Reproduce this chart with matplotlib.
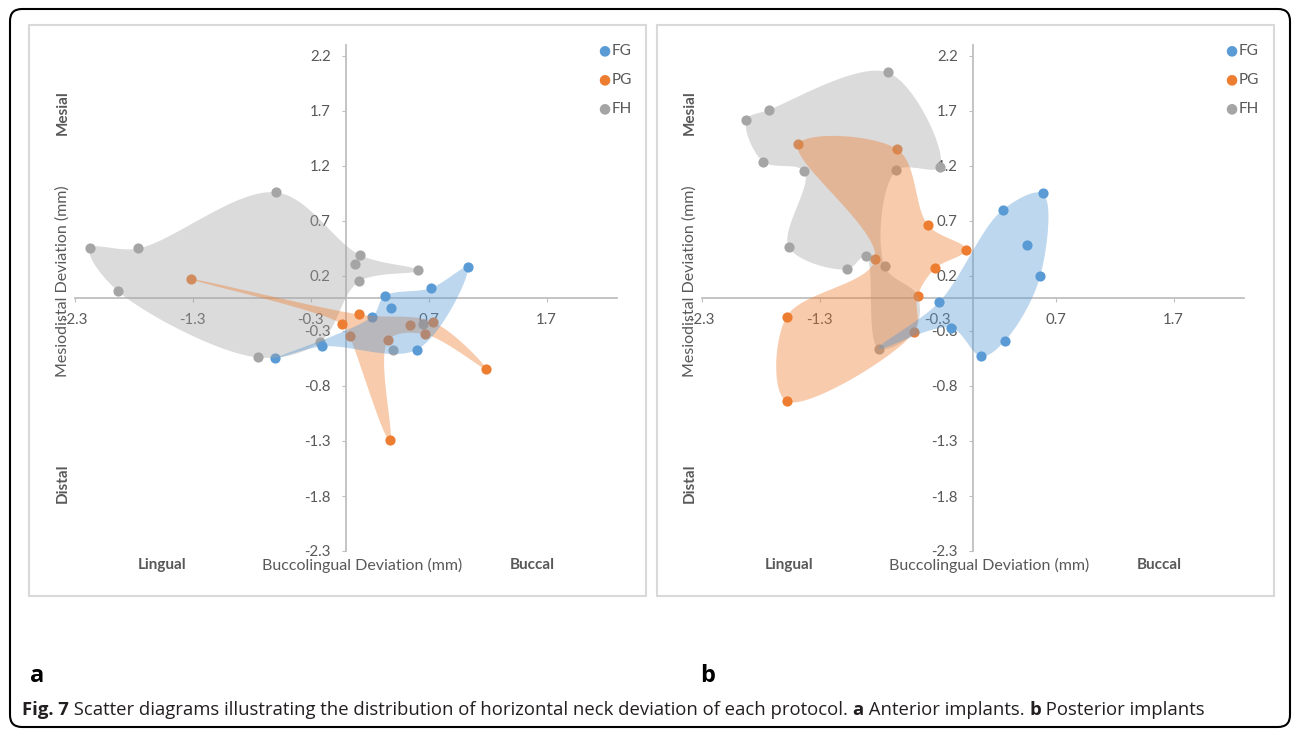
import numpy as np
import matplotlib
matplotlib.use("Agg")
import matplotlib.pyplot as plt
from matplotlib.patches import FancyBboxPatch, Rectangle, Polygon

# ---------------- data ----------------
# Panel a (anterior implants)
fg_a_x = [-0.60, -0.20, 0.22, 0.33, 0.38, 0.72, 1.03, 0.60]
fg_a_y = [-0.55, -0.44, -0.17, 0.02, -0.09, 0.09, 0.28, -0.47]
pg_a_x = [-1.31, -0.03, 0.03, 0.11, 0.36, 0.37, 0.54, 0.67, 0.74, 1.19]
pg_a_y = [0.17, -0.24, -0.35, -0.15, -0.38, -1.29, -0.25, -0.33, -0.22, -0.65]
fh_a_x = [-2.17, -1.76, -1.93, -0.59, -0.75, -0.22, 0.12, 0.08, 0.11, 0.61, 0.40, 0.65]
fh_a_y = [0.45, 0.45, 0.06, 0.96, -0.54, -0.40, 0.39, 0.31, 0.15, 0.25, -0.47, -0.24]

# Panel b (posterior implants)
fg_b_x = [-0.29, -0.19, 0.07, 0.27, 0.57, 0.46, 0.25, 0.59]
fg_b_y = [-0.04, -0.27, -0.53, -0.39, 0.20, 0.48, 0.80, 0.95]
pg_b_x = [-1.48, -0.64, -0.38, -0.06, -0.32, -0.83, -0.47, -1.58, -1.58, -0.50]
pg_b_y = [1.40, 1.35, 0.66, 0.44, 0.27, 0.35, 0.02, -0.17, -0.94, -0.31]
fh_b_x = [-0.72, -1.73, -1.92, -1.78, -1.43, -0.65, -0.28, -1.56, -1.07, -0.91, -0.75, -0.80]
fh_b_y = [2.05, 1.71, 1.62, 1.24, 1.15, 1.16, 1.19, 0.46, 0.26, 0.38, 0.29, -0.46]

# outline order of the hand-drawn regions (series, point index)
outline_fh_a = [("FH", i) for i in [0, 1, 3, 6, 9, 8, 5, 4, 2]]
outline_pg_a = [("PG", i) for i in [0, 3, 8, 9, 7, 4, 5, 2, 1]]
outline_fg_a = [("FG", i) for i in [0, 2, 3, 5, 6, 7, 1]]
outline_fh_b = ([("FH", 0), ("FH", 6), ("FH", 5), ("FH", 10), ("PG", 6), ("PG", 9)]
                + [("FH", i) for i in [11, 9, 8, 7, 4, 3, 2, 1]])
outline_pg_b = [("PG", i) for i in [0, 1, 2, 3, 4, 6, 9, 8, 7, 5]]
outline_fg_b = [("FG", i) for i in [0, 6, 7, 4, 3, 2, 1]] + [("FH", 11)]

series_names = ["FG", "PG", "FH"]
tick_vals_x = [-2.3, -1.3, -0.3, 0.7, 1.7]
tick_vals_y = [2.2, 1.7, 1.2, 0.7, 0.2, -0.3, -0.8, -1.3, -1.8, -2.3]

colors = {"FG": "#5B9BD5", "PG": "#ED7D31", "FH": "#A5A5A5"}
TXT = "#595959"
CHART_FONT = "Lato"
CAP_FONT = "Open Sans"

W, H = 1293, 730
fig = plt.figure(figsize=(W / 100, H / 100), dpi=100)


def fx(px):
    return px / W


def fy(py):
    return 1 - py / H


def catmull_closed(pts, n=24, alpha=0.5):
    P = np.asarray(pts, float)
    m = len(P)
    out = []
    for i in range(m):
        p0, p1, p2, p3 = P[(i - 1) % m], P[i], P[(i + 1) % m], P[(i + 2) % m]
        t0 = 0.0
        t1 = t0 + max(np.linalg.norm(p1 - p0), 1e-6) ** alpha
        t2 = t1 + max(np.linalg.norm(p2 - p1), 1e-6) ** alpha
        t3 = t2 + max(np.linalg.norm(p3 - p2), 1e-6) ** alpha
        for t in np.linspace(t1, t2, n, endpoint=False):
            a1 = (t1 - t) / (t1 - t0) * p0 + (t - t0) / (t1 - t0) * p1
            a2 = (t2 - t) / (t2 - t1) * p1 + (t - t1) / (t2 - t1) * p2
            a3 = (t3 - t) / (t3 - t2) * p2 + (t - t2) / (t3 - t2) * p3
            b1 = (t2 - t) / (t2 - t0) * a1 + (t - t0) / (t2 - t0) * a2
            b2 = (t3 - t) / (t3 - t1) * a2 + (t - t1) / (t3 - t1) * a3
            c = (t2 - t) / (t2 - t1) * b1 + (t - t1) / (t2 - t1) * b2
            out.append(c)
    return np.array(out)


def draw_panel(x0, data, outlines):
    left = x0 - 2.3 * 118
    ax = fig.add_axes([fx(left), fy(551), 4.6 * 118 / W, 506 / H])
    ax.set_xlim(-2.3, 2.3)
    ax.set_ylim(-2.3, 2.3)
    ax.patch.set_alpha(0)
    for s in ["top", "right"]:
        ax.spines[s].set_visible(False)
    for s in ["left", "bottom"]:
        ax.spines[s].set_position(("data", 0))
        ax.spines[s].set_color("#BFBFBF")
        ax.spines[s].set_linewidth(1.3)
    ax.set_xticks(tick_vals_x)
    ax.set_xticklabels([f"{v:.1f}" for v in tick_vals_x])
    ax.set_yticks(tick_vals_y)
    ax.set_yticklabels([f"{v:.1f}" for v in tick_vals_y])
    ax.tick_params(axis="both", direction="out", length=3, color="#BFBFBF",
                   labelcolor=TXT, labelsize=10.8)
    ax.tick_params(axis="x", pad=8)
    ax.tick_params(axis="y", pad=8)
    for lab in ax.get_xticklabels() + ax.get_yticklabels():
        lab.set_fontfamily(CHART_FONT)

    for name in ["FH", "PG", "FG"]:
        xs, ys = data[name]
        ax.scatter(xs, ys, s=54, color=colors[name], zorder=3, linewidths=0)

    for name, outline in outlines:
        pts = [(data[s][0][i], data[s][1][i]) for s, i in outline]
        curve = catmull_closed(pts)
        ax.add_patch(Polygon(curve, closed=True, facecolor=colors[name],
                             alpha=0.4, edgecolor="none", zorder=4))
    return ax


data_a = {"FG": (fg_a_x, fg_a_y), "PG": (pg_a_x, pg_a_y), "FH": (fh_a_x, fh_a_y)}
data_b = {"FG": (fg_b_x, fg_b_y), "PG": (pg_b_x, pg_b_y), "FH": (fh_b_x, fh_b_y)}

draw_panel(346, data_a, [("FH", outline_fh_a), ("PG", outline_pg_a), ("FG", outline_fg_a)])
draw_panel(973, data_b, [("FH", outline_fh_b), ("PG", outline_pg_b), ("FG", outline_fg_b)])

# panel frames
for bx in [29, 657]:
    fig.patches.append(Rectangle((bx, H - 596), 617, 571, transform=None,
                                 facecolor="none", edgecolor="#D9D9D9", lw=1.5))

# outer rounded border
fig.patches.append(FancyBboxPatch((10, H - 727), 1280, 718, transform=None,
                                  boxstyle="round,pad=0,rounding_size=12",
                                  facecolor="none", edgecolor="black", lw=1.5))

# chart texts
for off in [0, 627]:
    fig.text(fx(63 + off), fy(281), "Mesiodistal Deviation (mm)", rotation=90,
             ha="center", va="center", fontsize=11.5, color=TXT, family=CHART_FONT)
    fig.text(fx(63 + off), fy(113), "Mesial", rotation=90, ha="center", va="center",
             fontsize=11, color=TXT, fontweight="bold", family=CHART_FONT)
    fig.text(fx(63 + off), fy(483), "Distal", rotation=90, ha="center", va="center",
             fontsize=11, color=TXT, fontweight="bold", family=CHART_FONT)
    fig.text(fx(162 + off), fy(565), "Lingual", ha="center", va="center",
             fontsize=11, color=TXT, fontweight="bold", family=CHART_FONT)
    fig.text(fx(532 + off), fy(565), "Buccal", ha="center", va="center",
             fontsize=11, color=TXT, fontweight="bold", family=CHART_FONT)
    fig.text(fx(362 + off), fy(565), "Buccolingual Deviation (mm)", ha="center",
             va="center", fontsize=11.5, color=TXT, family=CHART_FONT)
    for k, name in enumerate(series_names):
        yy = 50 + 29 * k
        fig.text(fx(604 + off), fy(yy), "\u25CF", ha="center", va="center",
                 fontsize=10, color=colors[name], family="DejaVu Sans")
        fig.text(fx(612 + off), fy(yy + 1), name, ha="left", va="center",
                 fontsize=11, color=TXT, family=CHART_FONT)

# panel letters
fig.text(fx(30), fy(676), "a", ha="left", va="center", fontsize=17,
         fontweight="bold", family=CAP_FONT, color="black")
fig.text(fx(700), fy(676), "b", ha="left", va="center", fontsize=17,
         fontweight="bold", family=CAP_FONT, color="black")

# caption
cap_parts = [("Fig. 7", "bold"),
             (" Scatter diagrams illustrating the distribution of horizontal neck deviation of each protocol. ", "normal"),
             ("a", "bold"), (" Anterior implants. ", "normal"), ("b", "bold"),
             (" Posterior implants", "normal")]
renderer = fig.canvas.get_renderer()
xcur = 22
for txt, wgt in cap_parts:
    t = fig.text(fx(xcur), fy(710), txt, ha="left", va="center", fontsize=13.3,
                 fontweight=wgt, family=CAP_FONT, color="#231F20")
    bb = t.get_window_extent(renderer=renderer)
    xcur += bb.width

fig.savefig("out.png", dpi=100)
